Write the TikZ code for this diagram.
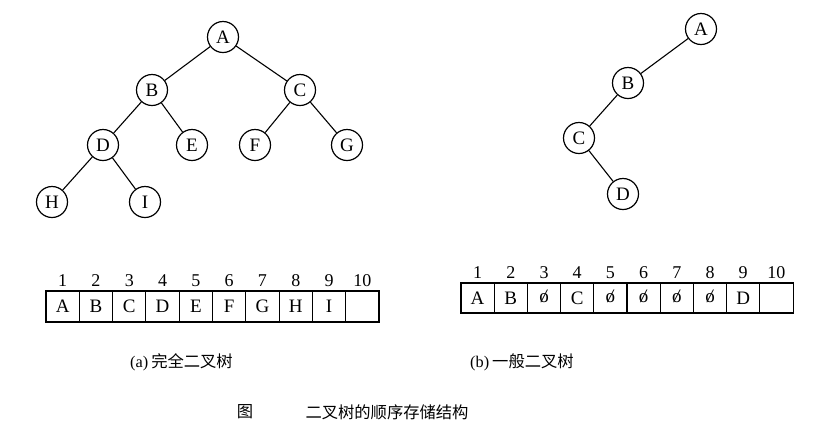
\documentclass[tikz,border=0pt]{standalone}
\usepackage{fontspec}
\setmainfont{Liberation Serif}
\newfontfamily\cjk{Noto Sans CJK SC}
\newcommand{\emptyslot}{\ooalign{\hfil o\hfil\cr\hfil\itshape/\hfil}}
\begin{document}
\begin{tikzpicture}[x=1pt,y=-1pt,
  tn/.style={circle,draw,line width=1.2pt,minimum size=31pt,inner sep=0pt,font=\fontsize{19}{19}\selectfont},
  edge/.style={line width=1.1pt},
  cell/.style={draw,line width=1.1pt,minimum width=33.3pt,inner sep=0pt,font=\fontsize{19}{19}\selectfont},
  idx/.style={font=\fontsize{18}{18}\selectfont,inner sep=0pt},
  captxt/.style={font=\cjk\fontsize{16.3}{16.3}\selectfont,inner sep=0pt}]
\useasboundingbox (0,0) rectangle (840,432);
% left tree
\node[tn] (A) at (223,37) {A};
\node[tn] (B) at (152,90) {B};
\node[tn] (C) at (300,90) {C};
\node[tn] (D) at (103,145) {D};
\node[tn] (E) at (192,145) {E};
\node[tn] (F) at (255,145) {F};
\node[tn] (G) at (347,145) {G};
\node[tn] (H) at (52,202) {H};
\node[tn] (I) at (145,202) {I};
\draw[edge] (A)--(B) (A)--(C) (B)--(D) (B)--(E) (C)--(F) (C)--(G) (D)--(H) (D)--(I);
% right tree
\node[tn] (rA) at (701,29) {A};
\node[tn] (rB) at (628,83) {B};
\node[tn] (rC) at (579,138) {C};
\node[tn] (rD) at (623,194) {D};
\draw[edge] (rA)--(rB) (rB)--(rC) (rC)--(rD);
% left array
\foreach \t [count=\i] in {A,B,C,D,E,F,G,H,I,{}} {
  \node[cell,minimum height=31pt] (l\i) at ({46+33.3*(\i-0.5)},306.5) {\t};
  \node[idx] (ln\i) at ({46+33.3*(\i-0.5)},281) {\i};
}
% right array
\foreach \t [count=\i] in {A,B,\emptyslot,C,\emptyslot,\emptyslot,\emptyslot,\emptyslot,D,{}} {
  \node[cell,minimum height=30pt] (r\i) at ({461+33.2*(\i-0.5)},298) {\t};
  \node[idx] (rn\i) at ({461+33.2*(\i-0.5)},273) {\i};
}
% captions
\node[anchor=west,inner sep=0pt,font=\fontsize{16.3}{16.3}\selectfont] (capa) at (130,362) {(a)\hspace{3pt}{\cjk 完全二叉树}};
\node[anchor=west,inner sep=0pt,font=\fontsize{16.3}{16.3}\selectfont] (capb) at (470,362) {(b)\hspace{3pt}{\cjk 一般二叉树}};
\node[captxt] (fig) at (245,412) {图};
\node[captxt] (title) at (387,412) {二叉树的顺序存储结构};
\end{tikzpicture}
\end{document}
